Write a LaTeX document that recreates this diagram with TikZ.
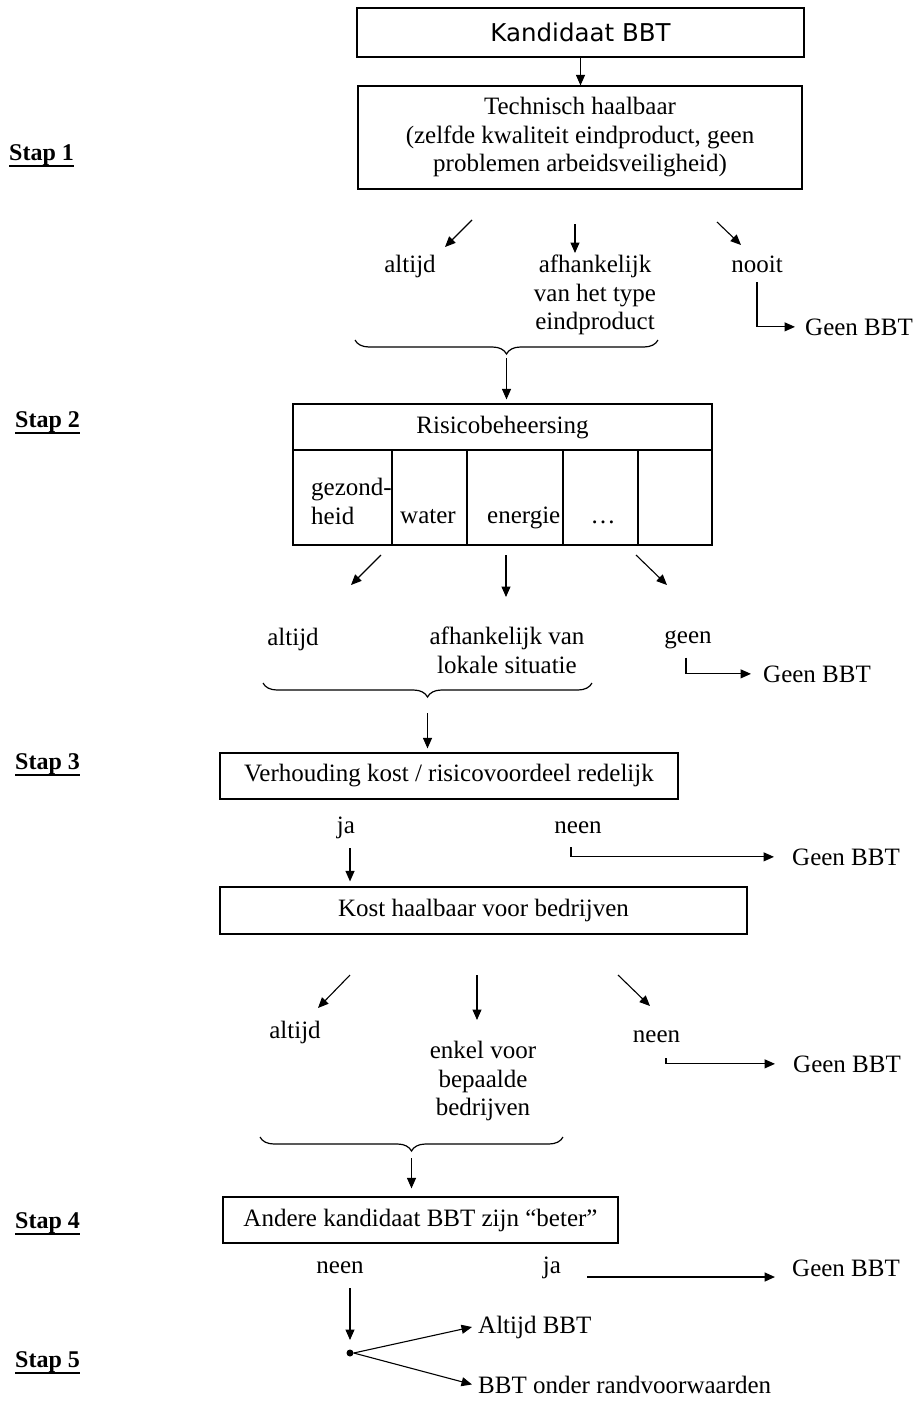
\documentclass[tikz,border=0pt]{standalone}
\usepackage{fontspec}
\setmainfont{Liberation Serif}
\newfontfamily\dvsans{DejaVu Sans}
\usetikzlibrary{arrows.meta,decorations.pathreplacing}
\newcommand\mytf{\fontsize{25}{28.5}\selectfont}
\newcommand\myul[1]{\setbox0\hbox{#1}\rlap{\vrule height -4.5pt depth 6.5pt width \wd0}\box0}
\begin{document}
\begin{tikzpicture}[x=1pt,y=-1pt,
  box/.style={draw, line width=1.2pt, inner sep=0pt, align=center, font=\mytf},
  lbl/.style={inner sep=0pt, font=\mytf, anchor=base},
  lblw/.style={inner sep=0pt, font=\mytf, anchor=base west},
  multi/.style={inner sep=0pt, font=\mytf, align=center, anchor=north},
  stap/.style={inner sep=0pt, font=\bfseries\fontsize{24}{28}\selectfont, anchor=base west},
  arr/.style={line width=1.1pt, -{Triangle[length=10.5pt,width=9pt]}},
  ln/.style={line width=1.2pt},
  brc/.style={line width=1.2pt, decorate, decoration={brace, mirror, amplitude=14pt}}]
\fill[white] (0,0) rectangle (914,1403);
\useasboundingbox (0,0) rectangle (914,1403);

% ---------- Stap 1
\node[box, minimum width=447pt, minimum height=49pt, font=\dvsans\fontsize{24.5}{29}\selectfont] (kand) at (580.5,32.5) {Kandidaat BBT};
\node[box, minimum width=444pt, minimum height=103pt] (tech) at (580,137.5) {Technisch haalbaar\\(zelfde kwaliteit eindproduct, geen\\problemen arbeidsveiligheid)};
\draw[arr] (kand.south) -- (kand.south |- tech.north);
\node[stap] (s1) at (9,160) {\myul{Stap 1}};

\node[lbl] (alt1) at (410,272) {altijd};
\node[multi] (afh1) at (595,255) {afhankelijk\\van het type\\eindproduct};
\node[lbl] (nooit) at (757,272) {nooit};
\node[lblw] (geen1) at (805,335) {Geen BBT};
\coordinate (a1l) at (472,220); \coordinate (a1m) at (575,224); \coordinate (a1r) at (717,222);
\draw[arr] (a1l) -- (445,247);
\draw[arr] (a1m) -- (575,253);
\draw[arr] (a1r) -- (741,245);
\draw[arr, shorten >=10pt] ([yshift=-10pt]nooit.south) |- (geen1.west);
\draw[brc] (355,340) -- (658,340);
\coordinate (b1) at (506.5,358);

% ---------- Stap 2
\node[draw, line width=1.2pt, minimum width=419pt, minimum height=141pt, inner sep=0pt] (risk) at (502.5,474.5) {};
\draw[arr, shorten >=4pt] (b1) -- (b1 |- risk.north);
\draw[ln] (293,450) -- (712,450);
\foreach \cx in {392,467,563,638} \draw[ln] (\cx,450) -- (\cx,545);
\node[lbl] (rh) at (502.5,433) {Risicobeheersing};
\node[inner sep=0pt, font=\mytf, align=left, anchor=north west] (gz) at (311,478) {gezond-\\heid};
\node[lblw] (wt) at (400,523) {water};
\node[lblw] (en) at (487,523) {energie};
\node[lbl] (dots) at (603,523) {…};
\node[stap] (s2) at (15,427) {\myul{Stap 2}};

\coordinate (a2l) at (381,555); \coordinate (a2m) at (506,555); \coordinate (a2r) at (636,555);
\draw[arr] (a2l) -- (351,585);
\draw[arr] (a2m) -- (506,597);
\draw[arr] (a2r) -- (667,585);
\node[lbl] (alt2) at (293,645) {altijd};
\node[multi] (afh2) at (507,627) {afhankelijk van\\lokale situatie};
\node[lbl] (geen) at (688,643) {geen};
\node[lblw] (geen2) at (763,682) {Geen BBT};
\draw[arr, shorten >=12pt] ([xshift=-2pt,yshift=-9pt]geen.south) |- (geen2.west);
\draw[brc] (263,683) -- (592,683);
\coordinate (b2) at (427.5,713);

% ---------- Stap 3
\node[box, minimum width=458pt, minimum height=46pt] (verh) at (449,776) {Verhouding kost / risicovoordeel redelijk};
\draw[arr, shorten >=4pt] (b2) -- (b2 |- verh.north);
\node[stap] (s3) at (15,769) {\myul{Stap 3}};
\node[lbl] (ja1) at (346,833) {ja};
\node[lbl] (neen1) at (578,833) {neen};
\node[lblw] (geen3) at (792,865) {Geen BBT};
\node[box, minimum width=527pt, minimum height=47pt] (kost) at (483.5,910.5) {Kost haalbaar voor bedrijven};
\coordinate (ja1s) at (350,848);
\draw[arr, shorten >=5pt] (ja1s) -- (ja1s |- kost.north);
\coordinate (neen1s) at (571,847);
\draw[arr, shorten >=18pt] (neen1s) |- (geen3.west);

\coordinate (a3l) at (350,975); \coordinate (a3m) at (477,975); \coordinate (a3r) at (618,975);
\draw[arr] (a3l) -- (318,1008);
\draw[arr] (a3m) -- (477,1020);
\draw[arr] (a3r) -- (650,1006);
\node[lbl] (alt3) at (295,1038) {altijd};
\node[multi] (enk) at (483,1041) {enkel voor\\bepaalde\\bedrijven};
\node[lbl] (neen2) at (656.5,1042) {neen};
\node[lblw] (geen4) at (793,1072) {Geen BBT};
\coordinate (neen2s) at (666,1058);
\draw[arr, shorten >=18pt] (neen2s) |- (geen4.west);
\draw[brc] (260,1137) -- (563,1137);
\coordinate (b3) at (411.5,1158);

% ---------- Stap 4
\node[box, minimum width=395pt, minimum height=46pt] (andere) at (420.5,1220) {Andere kandidaat BBT zijn “beter”};
\draw[arr, shorten >=8pt] (b3) -- (b3 |- andere.north);
\node[stap] (s4) at (15,1228) {\myul{Stap 4}};
\node[lbl] (neen3) at (340,1273) {neen};
\node[lbl] (ja2) at (552,1273) {ja};
\node[lblw] (geen5) at (792,1276) {Geen BBT};
\coordinate (ja2s) at (587,1277);
\draw[arr, line width=1.6pt] (ja2s) -- ([xshift=-17pt,yshift=-1pt]geen5.base west);

% ---------- Stap 5
\node[circle, fill=black, inner sep=0pt, minimum size=7pt] (dot) at (350,1353) {};
\coordinate (neen3s) at (350,1288);
\draw[arr, shorten >=13pt] (neen3s) -- (dot.center);
\node[lblw] (alw) at (478,1333) {Altijd BBT};
\node[lblw] (bon) at (478,1393) {BBT onder randvoorwaarden};
\draw[arr] (dot.east) -- ([xshift=-6pt]alw.west);
\draw[arr] (dot.east) -- ([xshift=-6pt]bon.west);
\node[stap] (s5) at (15,1367) {\myul{Stap 5}};
\end{tikzpicture}
\end{document}
